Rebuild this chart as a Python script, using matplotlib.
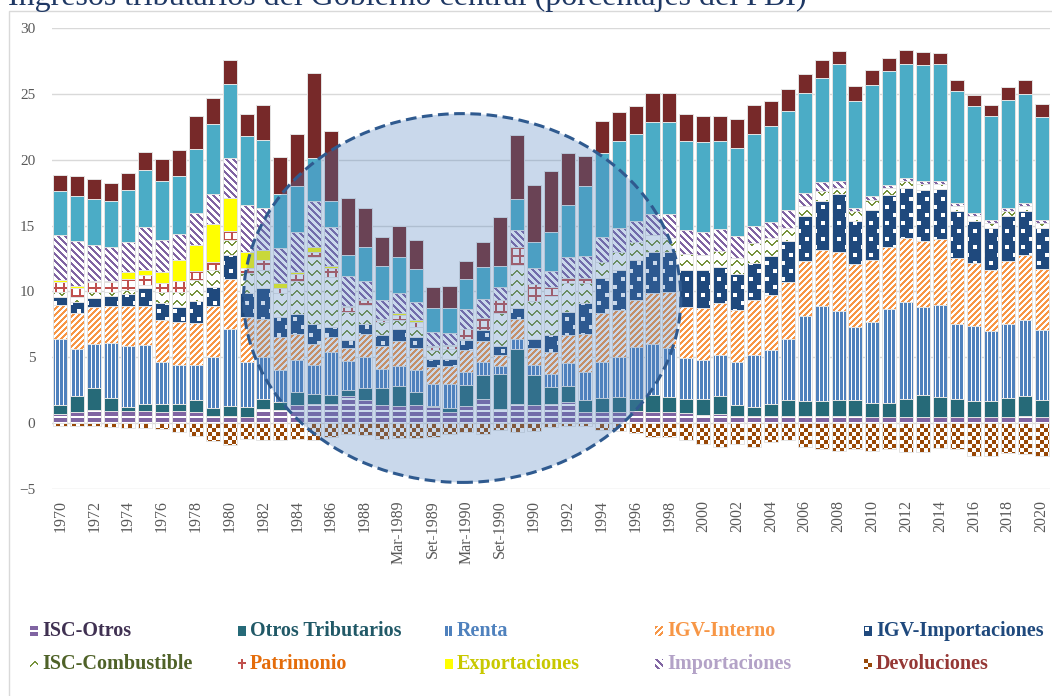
import numpy as np
import matplotlib
matplotlib.use("Agg")
import matplotlib.pyplot as plt
from matplotlib.colors import to_rgba
from matplotlib.patches import Ellipse, PathPatch, Rectangle
from matplotlib.path import Path

plt.rcParams["font.family"] = "Liberation Serif"

# ---- datos (% del PBI) ----
periodos = [str(a) for a in range(1970, 1989)] + [
    "Dic-1988", "Mar-1989", "Jun-1989", "Set-1989", "Dic-1989",
    "Mar-1990", "Jun-1990", "Set-1990", "Dic-1990"] + [str(a) for a in range(1990, 2021)]

isc_otros = [0.71, 0.84, 0.96, 0.89, 0.89, 0.89, 0.84, 0.89, 0.84, 0.58,
             0.58, 0.46, 1.09, 0.96, 1.35, 1.47, 1.47, 2.06, 1.73, 1.35,
             1.27, 1.35, 1.22, 0.84, 1.27, 1.80, 1.09, 1.47, 1.35, 1.47,
             1.60, 0.84, 0.84, 0.84, 0.89, 0.84, 0.84, 0.79, 0.63, 0.71,
             0.58, 0.53, 0.53, 0.53, 0.53, 0.53, 0.53, 0.53, 0.46, 0.46,
             0.46, 0.46, 0.46, 0.46, 0.46, 0.46, 0.46, 0.58, 0.46]
otros_trib = [0.64, 1.22, 1.70, 1.01, 0.33, 0.58, 0.63, 0.58, 0.89, 0.56,
              0.71, 0.76, 0.76, 0.64, 1.01, 0.76, 0.64, 0.43, 0.93, 1.31,
              1.55, 1.01, 0.07, 0.30, 1.65, 1.88, 2.67, 4.14, 2.33, 1.27,
              1.22, 0.89, 1.06, 1.14, 0.96, 1.32, 1.14, 1.06, 1.17, 1.35,
              0.82, 0.69, 0.94, 1.20, 1.12, 1.12, 1.20, 1.20, 1.09, 1.09,
              1.34, 1.65, 1.52, 1.34, 1.19, 1.19, 1.44, 1.48, 1.27]
renta = [5.07, 3.60, 3.38, 4.19, 4.64, 4.49, 3.17, 2.97, 2.71, 3.89,
         5.89, 3.42, 3.18, 2.41, 2.41, 2.16, 3.30, 2.21, 2.37, 1.48,
         1.52, 1.65, 1.71, 1.86, 0.96, 0.96, 0.58, 0.81, 0.71, 1.02,
         1.77, 2.15, 2.74, 3.05, 3.94, 3.88, 3.73, 3.10, 2.97, 3.14,
         3.24, 3.98, 4.06, 4.64, 6.50, 7.26, 6.77, 5.58, 6.14, 7.10,
         7.41, 6.72, 6.98, 5.71, 5.74, 5.35, 5.66, 5.76, 5.33]
igv_interno = [2.54, 2.74, 2.79, 2.82, 3.05, 2.95, 3.18, 3.25, 3.17, 3.85,
               3.76, 3.43, 2.91, 2.54, 2.03, 1.65, 1.14, 1.01, 1.70, 1.72,
               1.88, 1.70, 1.26, 1.34, 1.65, 1.58, 0.81, 1.52, 1.32, 1.65,
               2.09, 2.92, 3.76, 3.55, 3.55, 3.81, 4.26, 3.88, 3.99, 3.89,
               3.94, 4.14, 4.19, 4.32, 4.16, 4.24, 4.47, 4.75, 4.70, 4.75,
               4.83, 5.00, 5.02, 5.00, 4.74, 4.62, 4.75, 4.95, 4.64]
igv_import = [0.63, 0.81, 0.69, 0.76, 0.86, 1.32, 1.27, 1.14, 1.65, 1.48,
              1.83, 1.83, 2.29, 1.52, 1.52, 1.52, 0.76, 0.58, 0.83, 0.82,
              0.91, 0.84, 0.59, 0.56, 0.76, 0.84, 0.71, 0.82, 0.71, 1.27,
              1.77, 2.29, 2.59, 3.04, 3.05, 3.12, 3.05, 2.79, 2.86, 2.79,
              2.71, 2.79, 3.00, 3.14, 3.38, 3.68, 4.42, 3.30, 3.80, 3.94,
              3.85, 3.84, 3.81, 3.56, 3.25, 3.18, 3.45, 3.30, 3.15]
isc_comb = [0.38, 0.38, 0.45, 0.30, 0.33, 0.25, 0.88, 1.14, 1.60, 1.26,
            1.14, 1.50, 1.39, 1.78, 2.47, 5.08, 3.81, 2.16, 1.40, 1.01,
            0.69, 0.76, 0.68, 0.71, 0.08, 0.04, 2.54, 3.24, 2.84, 2.99,
            2.16, 1.52, 1.27, 1.40, 1.39, 1.32, 1.02, 1.20, 1.15, 1.19,
            1.22, 1.52, 1.32, 1.02, 0.83, 0.76, 0.45, 0.71, 0.76, 0.50,
            0.46, 0.48, 0.36, 0.38, 0.38, 0.38, 0.36, 0.43, 0.33]
patrimonio = [0.77, 0.69, 0.77, 0.77, 0.84, 0.76, 0.64, 0.82, 0.69, 0.64,
              0.68, 0.36, 0.77, 0.38, 0.51, 0.38, 0.63, 0.38, 0.38, 0.11,
              0.38, 0.38, 0.27, 0.25, 0.76, 0.90, 0.94, 1.40, 1.27, 0.69,
              0.38, 0.38] + [0.0] * 27
exportaciones = [0.10, 0.10, 0.05, 0.05, 0.51, 0.38, 0.89, 1.60, 1.98, 2.87,
                 2.49, 1.27, 0.76, 0.38, 0.20, 0.38, 0.20, 0.07, 0.06, 0.14,
                 0.20, 0.13, 0.06, 0.05] + [0.0] * 35
importaciones = [3.45, 3.45, 2.74, 2.61, 2.33, 3.30, 2.41, 1.95, 2.41, 2.26,
                 3.05, 3.54, 3.22, 2.66, 2.99, 3.48, 2.97, 2.29, 1.39, 1.40,
                 1.45, 1.39, 1.07, 0.97, 1.52, 1.42, 1.02, 1.27, 1.22, 1.19,
                 1.65, 1.73, 1.90, 1.78, 1.58, 1.57, 1.82, 1.85, 1.72, 1.68,
                 1.73, 1.35, 1.21, 1.34, 0.94, 0.71, 0.56, 0.30, 0.26, 0.26,
                 0.25, 0.25, 0.25, 0.25, 0.23, 0.25, 0.20, 0.20, 0.25]
celeste = [3.30, 3.45, 3.47, 3.50, 3.94, 4.32, 4.44, 4.44, 4.87, 5.35,
           5.63, 5.26, 5.15, 4.12, 3.48, 3.25, 1.96, 1.58, 2.61, 2.61,
           2.74, 2.49, 1.78, 1.83, 2.29, 2.46, 1.59, 2.36, 2.03, 2.94,
           3.93, 5.25, 6.35, 6.65, 6.59, 7.01, 7.01, 6.73, 6.86, 6.65,
           6.65, 6.95, 7.29, 7.54, 7.57, 7.92, 8.88, 8.12, 8.45, 8.63,
           8.68, 8.78, 8.83, 8.50, 8.07, 7.87, 8.25, 8.30, 7.82]
granate = [1.27, 1.45, 1.55, 1.37, 1.26, 1.32, 1.73, 1.96, 2.54, 1.96,
           1.78, 1.65, 2.67, 2.81, 3.98, 6.47, 5.33, 4.31, 2.97, 2.21,
           2.38, 2.21, 1.59, 1.70, 1.37, 1.85, 3.68, 4.87, 4.32, 4.62,
           3.94, 2.33, 2.41, 2.18, 2.11, 2.21, 2.21, 2.08, 1.95, 1.95,
           2.21, 2.24, 1.95, 1.65, 1.44, 1.32, 0.97, 1.09, 1.12, 1.01,
           1.02, 1.02, 0.89, 0.89, 0.89, 0.89, 0.96, 1.04, 0.99]
devoluciones = [-0.18, -0.20, -0.18, -0.30, -0.38, -0.38, -0.48, -0.69, -1.00, -1.32,
                -1.65, -1.19, -1.30, -1.30, -1.20, -1.30, -1.07, -0.80, -0.90, -1.20,
                -1.14, -1.14, -1.07, -0.80, -0.70, -0.80, -0.55, -0.70, -0.63, -0.30,
                -0.20, -0.20, -0.55, -0.63, -0.74, -1.07, -1.07, -1.30, -1.57, -1.83,
                -1.57, -1.83, -1.45, -1.30, -1.83, -1.95, -2.08, -1.95, -2.08, -1.95,
                -2.16, -2.16, -1.90, -2.00, -2.50, -2.50, -2.26, -2.33, -2.46]

# stack order, bottom -> top: (values, fill pattern, colour)
apilado = [
    (isc_otros, "hstripe", "#8064A2"),
    (otros_trib, "solid", "#266A78"),
    (renta, "vstripe", "#4F81BD"),
    (igv_interno, "updiag", "#F79646"),
    (igv_import, "squares", "#1F497D"),
    (isc_comb, "zigzag", "#77933C"),
    (patrimonio, "grid", "#C0504D"),
    (exportaciones, "solid", "#FFFF00"),
    (importaciones, "downdiag", "#8064A2"),
    (celeste, "solid", "#4BACC6"),
    (granate, "solid", "#772929"),
]

# legend: (label, pattern, swatch colour, text colour)
leyenda = [
    ("ISC-Otros", "hstripe", "#8064A2", "#403152"),
    ("Otros Tributarios", "solid", "#266A78", "#215967"),
    ("Renta", "vstripe", "#4F81BD", "#4F81BD"),
    ("IGV-Interno", "updiag", "#F79646", "#F79646"),
    ("IGV-Importaciones", "squares", "#1F497D", "#1F497D"),
    ("ISC-Combustible", "zigzag", "#77933C", "#4F6228"),
    ("Patrimonio", "grid", "#C0504D", "#E46C0A"),
    ("Exportaciones", "solid", "#FFFF00", "#C8C800"),
    ("Importaciones", "downdiag", "#8064A2", "#B3A2C7"),
    ("Devoluciones", "checker", "#984807", "#953735"),
]

W, H, DPI = 1052, 696, 100
AX = (52, 28, 1050, 489)          # left, top, right, bottom in px
EDGE = "#E4E4E4"


def mask(kind):
    """Excel-like bitmap fill patterns (True = foreground pixel)."""
    if kind == "hstripe":
        return (np.arange(6) < 4)[:, None]
    if kind == "vstripe":
        return (np.arange(4) < 3)[None, :]
    if kind == "updiag":
        r, c = np.mgrid[0:6, 0:6]
        return (r + c) % 6 < 3
    if kind == "downdiag":
        r, c = np.mgrid[0:7, 0:7]
        return (c - r) % 7 < 3
    if kind == "squares":
        m = np.ones((16, 16), bool)
        m[1:5, 1:5] = False; m[9:13, 9:13] = False
        return m
    if kind == "zigzag":
        m = np.zeros((10, 10), bool)
        for c in range(10):
            r = 2 + int(round(abs(c - 4.5) * 0.9))
            m[r:r + 2, c] = True
        return m
    if kind == "grid":
        m = np.zeros((8, 8), bool)
        m[3:5, :] = True; m[:, 3:5] = True
        return m
    if kind == "checker":
        r, c = np.mgrid[0:8, 0:8]
        return (r // 4 + c // 4) % 2 == 0
    return np.ones((1, 1), bool)


def tile(kind, fg, h, w, bg="white"):
    m = mask(kind)
    m = np.tile(m, (h // m.shape[0] + 1, w // m.shape[1] + 1))[:h, :w]
    img = np.empty((h, w, 4))
    img[m] = to_rgba(fg); img[~m] = to_rgba(bg)
    return img


fig = plt.figure(figsize=(W / DPI, H / DPI), dpi=DPI)
l, t, r, b = AX
ax = fig.add_axes([l / W, 1 - b / H, (r - l) / W, (b - t) / H])
x = np.arange(len(periodos))
XL, YL = (-0.5, len(periodos) - 0.5), (-5, 30)


def capa(vals, base, kind, color):
    if kind == "solid":
        ax.bar(x, vals, 0.83, bottom=base, color=color, edgecolor=EDGE, lw=0.7, zorder=3)
        return
    bars = ax.bar(x, vals, 0.83, bottom=base, facecolor="none", edgecolor=EDGE, lw=0.7, zorder=3)
    cp = Path.make_compound_path(*[p.get_path().transformed(p.get_patch_transform()) for p in bars])
    im = ax.imshow(tile(kind, color, b - t, r - l), extent=(*XL, *YL), aspect="auto",
                   interpolation="nearest", zorder=2)
    im.set_clip_path(PathPatch(cp, transform=ax.transData))


base = np.zeros(len(x))
for vals, kind, color in apilado:
    capa(vals, base, kind, color)
    base = base + np.array(vals)
capa(devoluciones, 0, "checker", "#984807")

ax.set_xlim(XL); ax.set_ylim(YL)
ax.set_yticks(range(-5, 31, 5))
ax.yaxis.grid(True, color="#D9D9D9", lw=1)
ax.set_axisbelow(True)
for s in ax.spines.values():
    s.set_visible(False)
ax.tick_params(axis="y", length=0, pad=12, labelsize=11, labelcolor="#595959")
ax.set_xticks(x[::2], [periodos[i] for i in x[::2]], rotation=90)
ax.tick_params(axis="x", length=0, pad=8, labelsize=11.5, labelcolor="#595959")

# highlighted period
ax.add_patch(Ellipse((23.75, 9.5), 25.85, 28.0, facecolor=(0.31, 0.506, 0.741, 0.3),
                     edgecolor="#2F5A8F", lw=2.2, ls=(0, (3.5, 1.8)), zorder=6, clip_on=False))

# legend built by hand: pattern swatch + coloured bold label
cols, rows = [30, 238, 445, 655, 864], [631, 664]
for i, (txt, kind, fg, tc) in enumerate(leyenda):
    px, py = cols[i % 5], rows[i // 5]
    fig.figimage(tile(kind, fg, 10, 8), xo=px, yo=H - py - 5, zorder=5)
    fig.text((px + 12) / W, 1 - py / H, txt, color=tc, fontsize=14.5,
             fontweight="bold", va="center")

fig.text(8 / W, 1 - 5 / H, "Ingresos tributarios del Gobierno central (porcentajes del PBI)",
         fontsize=23, color="#1F3864", va="baseline")
fig.add_artist(Rectangle((9 / W, -0.1), 1.2, 1.1 - 11 / H, transform=fig.transFigure,
                         fill=False, ec="#D9D9D9", lw=1))

fig.savefig("out.png", dpi=DPI)
